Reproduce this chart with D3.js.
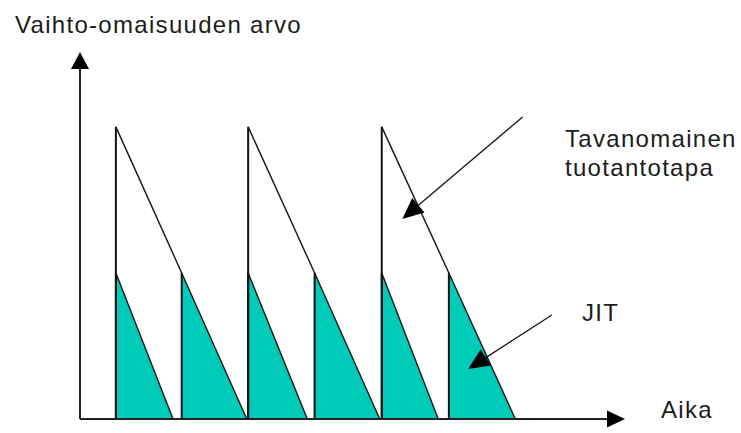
<!DOCTYPE html>
<html>
<head>
<meta charset="utf-8">
<script src="https://cdn.jsdelivr.net/npm/d3@7"></script>
<style>
  html, body { margin: 0; padding: 0; background: #ffffff; }
  svg { display: block; }
  text { font-family: "Liberation Sans", Arial, sans-serif; font-size: 24px; fill: #1c1c1c; letter-spacing: 1.3px; }
</style>
</head>
<body>
<svg id="chart" width="741" height="433"></svg>
<script>
// Time (x) and inventory value (y) in abstract units.
const jitStarts   = [0.54, 1.53, 2.53, 3.53, 4.54, 5.55];   // JIT deliveries
const jitEnds     = [1.40, 2.51, 3.42, 4.51, 5.39, 6.55];   // stock used up
const jitPeak     = [4, 4, 4, 4, 4, 4];
const tradStarts  = [0.54, 2.53, 4.54];                     // traditional batches
const tradEnds    = [1.53, 3.53, 5.55];
const tradPeak    = [8, 8, 8];
const tradLow     = [4, 4, 4];

const axisTitles  = ["Vaihto-omaisuuden arvo", "Aika"];
const seriesNames = [["Tavanomainen", "tuotantotapa"], ["JIT"]];

// Annotation pointers: [fromT, fromV, toT, toV]
const pointers = [
  [6.66, 8.27, 4.85, 5.48],
  [7.10, 2.85, 5.84, 1.37]
];

const svg = d3.select("#chart");

const x = d3.scaleLinear().domain([0, 8.2]).range([80, 625]);
const y = d3.scaleLinear().domain([0, 10.05]).range([419, 52]);

const ink = "#141414";
const teal = "#00cbb9";

// JIT triangles
const jit = jitStarts.map((s, i) => ({ s, e: jitEnds[i], v: jitPeak[i] }));
svg.append("g").selectAll("path").data(jit).join("path")
  .attr("d", d => d3.line()([[x(d.s), y(0)], [x(d.s), y(d.v)], [x(d.e), y(0)]]) + "Z")
  .attr("fill", teal).attr("stroke", "none");
svg.append("g").selectAll("line").data(jit).join("line")
  .attr("x1", d => x(d.s)).attr("y1", d => y(d.v))
  .attr("x2", d => x(d.e)).attr("y2", d => y(0))
  .attr("stroke", ink).attr("stroke-width", 1.4);

// Traditional sawtooth: vertical rise then linear draw-down
const trad = tradStarts.map((s, i) => ({ s, e: tradEnds[i], hi: tradPeak[i], lo: tradLow[i] }));
svg.append("g").selectAll("line").data(trad).join("line")
  .attr("x1", d => x(d.s)).attr("y1", d => y(d.hi))
  .attr("x2", d => x(d.e)).attr("y2", d => y(d.lo))
  .attr("stroke", ink).attr("stroke-width", 1.4);
svg.append("g").selectAll("line").data(trad).join("line")
  .attr("x1", d => x(d.s)).attr("y1", y(0))
  .attr("x2", d => x(d.s)).attr("y2", d => y(d.hi))
  .attr("stroke", ink).attr("stroke-width", 2);

// JIT vertical edges
svg.append("g").selectAll("line").data(jit).join("line")
  .attr("x1", d => x(d.s)).attr("y1", y(0))
  .attr("x2", d => x(d.s)).attr("y2", d => y(d.v))
  .attr("stroke", ink).attr("stroke-width", 2);

// Axes with arrowheads
const x0 = x(0), y0 = y(0);
const xTip = x.range()[1], yTip = y.range()[1];
svg.append("line").attr("x1", x0).attr("y1", y0).attr("x2", xTip - 10).attr("y2", y0)
  .attr("stroke", "#222").attr("stroke-width", 2);
svg.append("line").attr("x1", x0).attr("y1", y0).attr("x2", x0).attr("y2", yTip + 10)
  .attr("stroke", "#222").attr("stroke-width", 2);
svg.append("path")
  .attr("d", `M${x0},${yTip}L${x0 - 9},${yTip + 17}L${x0 + 9},${yTip + 17}Z`)
  .attr("fill", "#000");
svg.append("path")
  .attr("d", `M${xTip},${y0}L${xTip - 18},${y0 - 8.5}L${xTip - 18},${y0 + 8.5}Z`)
  .attr("fill", "#000");

// Pointer arrows
pointers.forEach(p => {
  const x1 = x(p[0]), y1 = y(p[1]), x2 = x(p[2]), y2 = y(p[3]);
  const dx = x2 - x1, dy = y2 - y1, len = Math.hypot(dx, dy);
  const ux = dx / len, uy = dy / len, px = -uy, py = ux;
  const headL = 21, headW = 9.5;
  const bx = x2 - ux * headL, by = y2 - uy * headL;
  svg.append("line").attr("x1", x1).attr("y1", y1).attr("x2", bx).attr("y2", by)
    .attr("stroke", ink).attr("stroke-width", 1.3);
  svg.append("path")
    .attr("d", `M${x2},${y2}L${bx + px * headW},${by + py * headW}L${bx - px * headW},${by - py * headW}Z`)
    .attr("fill", "#000");
});

// Labels
svg.append("text").attr("x", 15).attr("y", 33).text(axisTitles[0]);
svg.append("text").attr("x", 661).attr("y", 418).text(axisTitles[1]);
const t1 = svg.append("text").attr("x", 565).attr("y", 147);
seriesNames[0].forEach((s, i) => t1.append("tspan").attr("x", 565).attr("dy", i ? 29 : 0).text(s));
svg.append("text").attr("x", 582).attr("y", 321).text(seriesNames[1][0]);
</script>
</body>
</html>
